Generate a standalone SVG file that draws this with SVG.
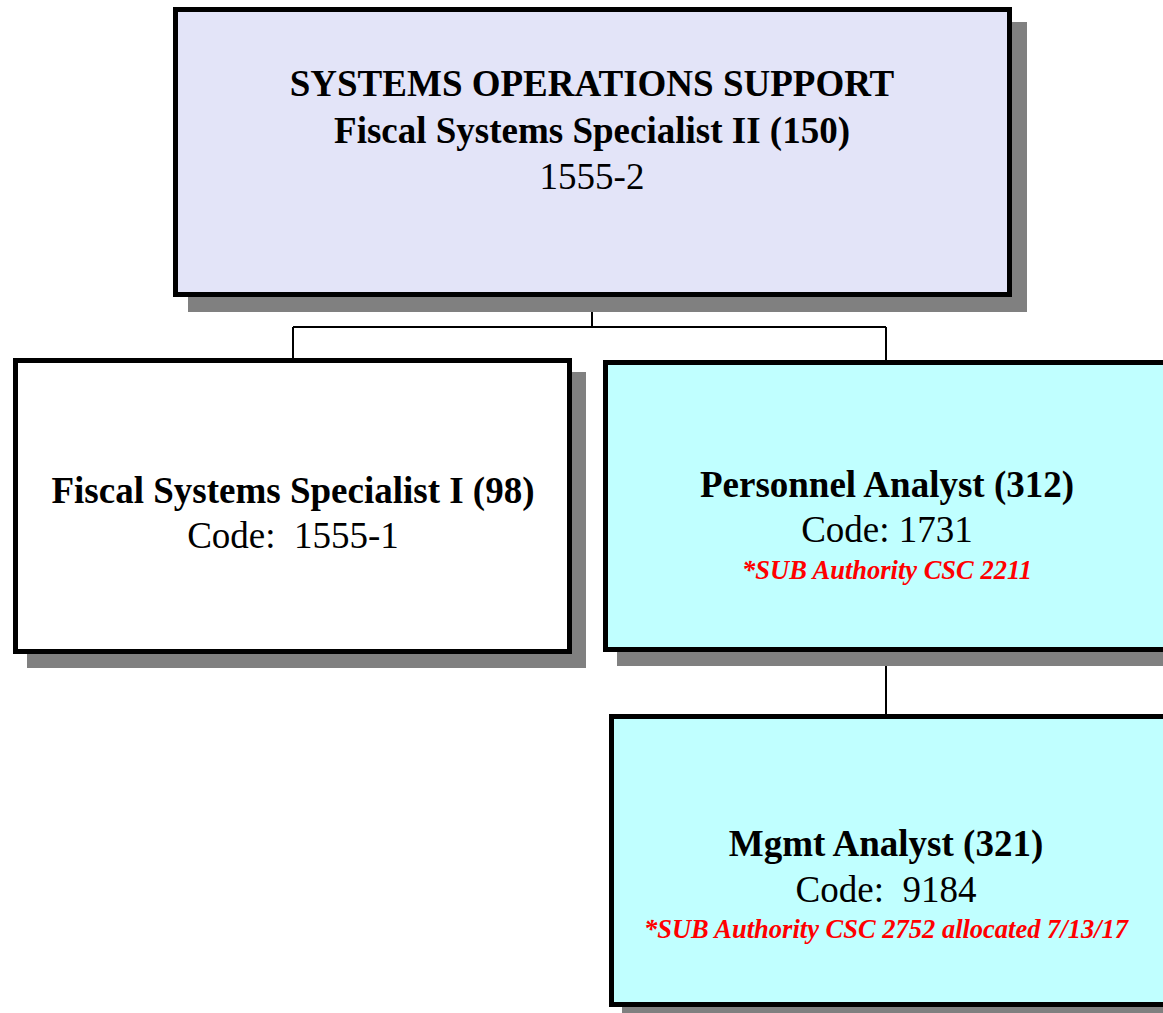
<svg xmlns="http://www.w3.org/2000/svg" width="1163" height="1013" viewBox="0 0 1163 1013">
<style>
.shadow{fill:#808080;stroke:none}
.box{stroke:#000;stroke-width:5}
.top{fill:#E3E4F8}
.white{fill:#FFFFFF}
.cyan{fill:#C0FFFF}
text{font-family:"Liberation Serif","Times New Roman",serif;text-anchor:middle;fill:#000}
.b{font-weight:bold;font-size:37px}
.r{font-size:37px}
.red{font-weight:bold;font-style:italic;font-size:26.5px;fill:#FF0000}
.conn{stroke:#000;stroke-width:2;fill:none}
</style>
<rect width="1163" height="1013" fill="#FFFFFF"/>
<g id="connectors">
<path class="conn" d="M592 297 V327 M293 327 H886 M293 327 V358 M886 327 V360 M886 650 V714"/>
</g>
<g id="node-top">
<rect class="shadow" x="188" y="22" width="839" height="290"/>
<rect class="box top" x="175.5" y="9.5" width="834" height="285"/>
<text class="b" x="592" y="96">SYSTEMS OPERATIONS SUPPORT</text>
<text class="b" x="592" y="143">Fiscal Systems Specialist II (150)</text>
<text class="r" x="592" y="189">1555-2</text>
</g>
<g id="node-fss1">
<rect class="shadow" x="27" y="372" width="559" height="296"/>
<rect class="box white" x="15.5" y="360.5" width="554" height="291"/>
<text class="b" x="293" y="503">Fiscal Systems Specialist I (98)</text>
<text class="r" x="293" y="548" xml:space="preserve">Code:  1555-1</text>
</g>
<g id="node-personnel">
<rect class="shadow" x="617" y="374" width="560" height="292"/>
<rect class="box cyan" x="605.5" y="362.5" width="560" height="287"/>
<text class="b" x="887" y="497">Personnel Analyst (312)</text>
<text class="r" x="887" y="542">Code: 1731</text>
<text class="red" x="887" y="579">*SUB Authority CSC 2211</text>
</g>
<g id="node-mgmt">
<rect class="shadow" x="622" y="729" width="560" height="290"/>
<rect class="box cyan" x="611.5" y="716.5" width="560" height="288"/>
<text class="b" x="886" y="856">Mgmt Analyst (321)</text>
<text class="r" x="886" y="902" xml:space="preserve">Code:  9184</text>
<text class="red" x="886" y="938">*SUB Authority CSC 2752 allocated 7/13/17</text>
</g>
</svg>
